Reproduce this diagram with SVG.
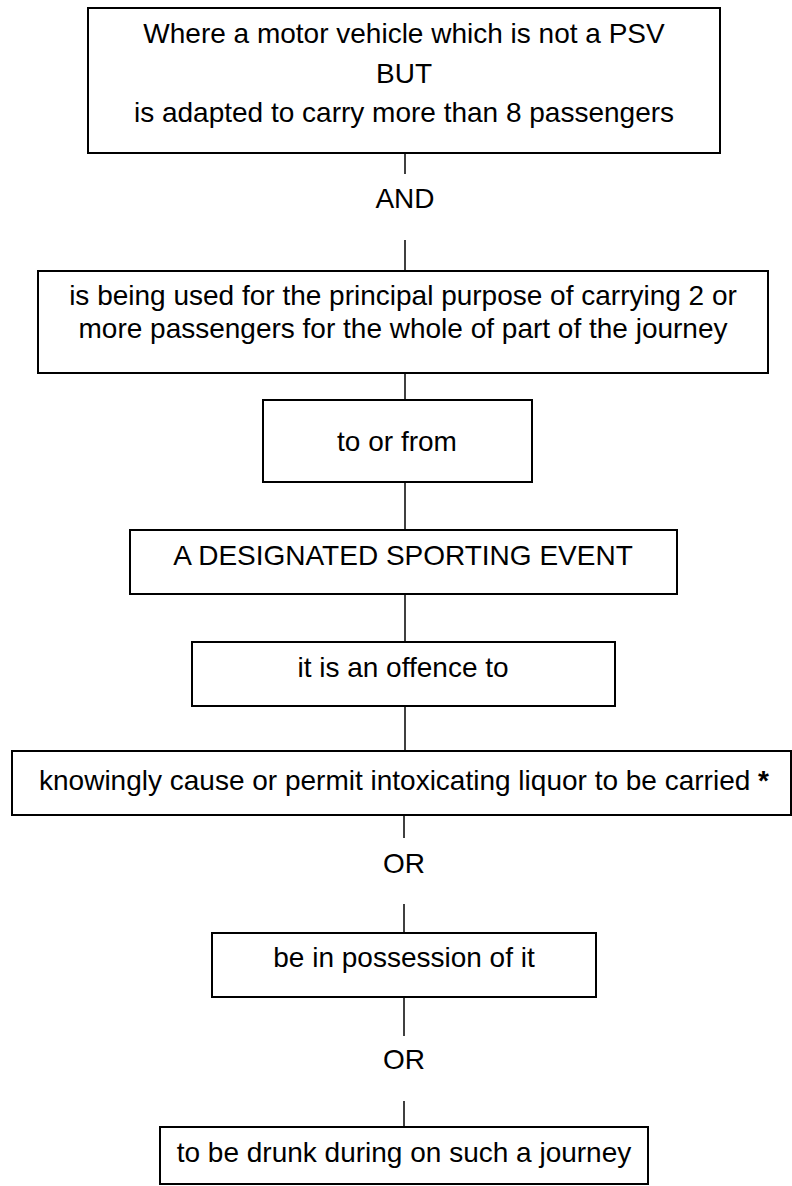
<svg xmlns="http://www.w3.org/2000/svg" width="792" height="1186" viewBox="0 0 792 1186">
<style>
.box{fill:#fff;stroke:#000;stroke-width:2}
.t{font-family:"Liberation Sans",Arial,sans-serif;font-size:28px;fill:#000;text-anchor:middle}
.c{stroke:#000;stroke-width:1.5;fill:none}
</style>
<rect width="792" height="1186" fill="#fff"/>
<g id="connectors">
<line class="c" x1="405" y1="153" x2="405" y2="174"/>
<line class="c" x1="405" y1="240" x2="405" y2="271"/>
<line class="c" x1="405" y1="373" x2="405" y2="400"/>
<line class="c" x1="405" y1="482" x2="405" y2="530"/>
<line class="c" x1="405" y1="594" x2="405" y2="642"/>
<line class="c" x1="405" y1="706" x2="405" y2="751"/>
<line class="c" x1="404" y1="815" x2="404" y2="838"/>
<line class="c" x1="404" y1="904" x2="404" y2="933"/>
<line class="c" x1="404" y1="997" x2="404" y2="1036"/>
<line class="c" x1="404" y1="1101" x2="404" y2="1127"/>
<text class="t" x="405" y="208">AND</text>
<text class="t" x="404" y="873">OR</text>
<text class="t" x="404" y="1069">OR</text>
</g>
<g id="n1">
<rect class="box" x="88" y="8" width="632" height="145"/>
<text class="t" x="404" y="43">Where a motor vehicle which is not a PSV</text>
<text class="t" x="404" y="83">BUT</text>
<text class="t" x="404" y="122">is adapted to carry more than 8 passengers</text>
</g>
<g id="n2">
<rect class="box" x="38" y="271" width="730" height="102"/>
<text class="t" x="403" y="305">is being used for the principal purpose of carrying 2 or</text>
<text class="t" x="403" y="338">more passengers for the whole of part of the journey</text>
</g>
<g id="n3">
<rect class="box" x="263" y="400" width="269" height="82"/>
<text class="t" x="397" y="451">to or from</text>
</g>
<g id="n4">
<rect class="box" x="130" y="530" width="547" height="64"/>
<text class="t" x="403" y="565">A DESIGNATED SPORTING EVENT</text>
</g>
<g id="n5">
<rect class="box" x="192" y="642" width="423" height="64"/>
<text class="t" x="403" y="677">it is an offence to</text>
</g>
<g id="n6">
<rect class="box" x="12" y="751" width="779" height="64"/>
<text class="t" x="404" y="790">knowingly cause or permit intoxicating liquor to be carried <tspan font-weight="bold">*</tspan></text>
</g>
<g id="n7">
<rect class="box" x="212" y="933" width="384" height="64"/>
<text class="t" x="404" y="967">be in possession of it</text>
</g>
<g id="n8">
<rect class="box" x="160" y="1127" width="488" height="57"/>
<text class="t" x="404" y="1162">to be drunk during on such a journey</text>
</g>
</svg>
